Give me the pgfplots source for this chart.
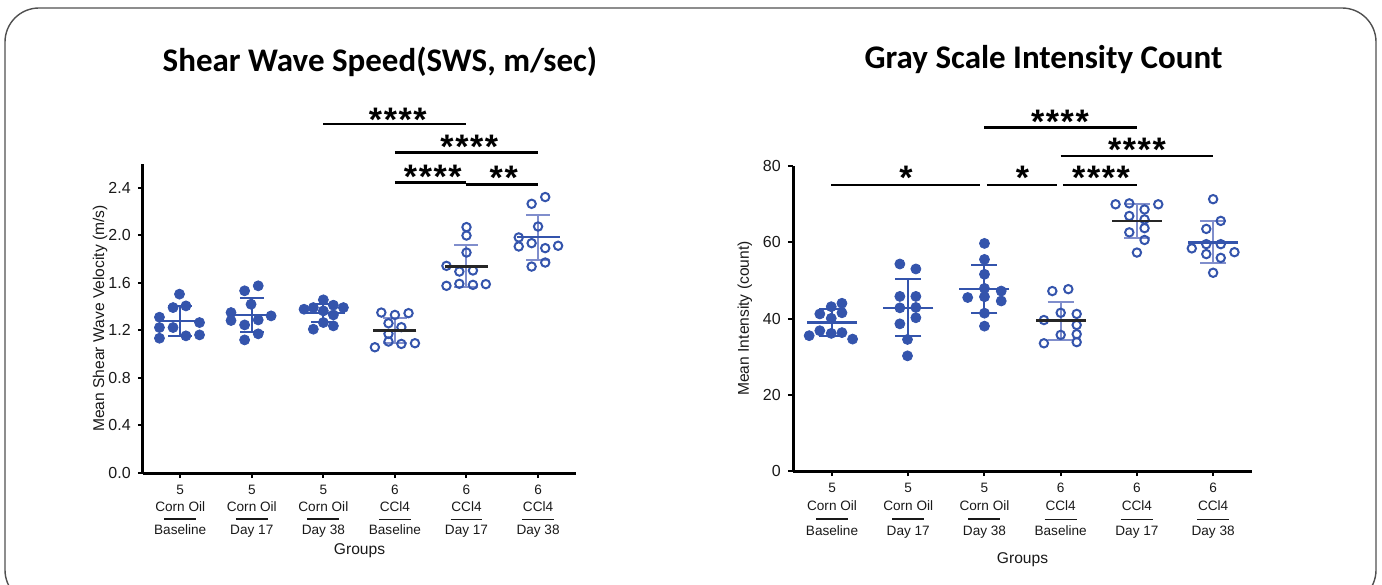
\documentclass[border=0pt]{standalone}
\usepackage{fontspec}
\setmainfont{Liberation Sans}
\newfontfamily\titlefont{Carlito}
\usepackage{pgfplots}
\pgfplotsset{compat=1.18}

\definecolor{dotblue}{RGB}{52,84,172}
\definecolor{sdblue}{RGB}{128,142,204}
\definecolor{framegray}{RGB}{80,80,80}

% group label: n / treatment / rule / time point
\newcommand{\glab}[3]{#1\\#2\\[-4.5pt]\rule{16pt}{0.6pt}\\[-1pt]#3}
\newcommand{\stars}{*\kern0.8pt*\kern0.8pt*\kern0.8pt*}

\tikzset{startxt/.style={anchor=base, inner sep=0pt, font=\fontsize{17}{17}\selectfont\bfseries}}

\pgfplotsset{
  panel/.style={
    scale only axis, anchor=south west,
    axis x line=bottom, axis y line=left,
    axis line style={line width=1.5pt,-},
    tick align=outside, major tick length=2.6pt,
    tick style={line width=1pt, black},
    xtick={1,...,6}, clip=false,
    xticklabels={{\glab{5}{Corn Oil}{Baseline}},{\glab{5}{Corn Oil}{Day 17}},{\glab{5}{Corn Oil}{Day 38}},
                 {\glab{6}{CCl4}{Baseline}},{\glab{6}{CCl4}{Day 17}},{\glab{6}{CCl4}{Day 38}}},
    xticklabel style={font=\fontsize{6.8}{8.5}\selectfont, align=center, text=black!90},
    yticklabel style={font=\fontsize{8}{9}\selectfont, text=black!90,
      /pgf/number format/assume math mode=true},
    label style={font=\fontsize{7.8}{9}\selectfont, text=black!90},
    xlabel={Groups},
  },
  filled/.style={only marks, mark=*, mark size=2.5pt, dotblue},
  hollow/.style={only marks, mark=o, mark size=2.1pt, dotblue, mark options={line width=1pt}},
  meanbar/.style n args={4}{only marks, #1, mark=-, mark size=#2,
    mark options={line width=1.3pt},
    error bars/.cd, y dir=both, y explicit,
    error bar style={#3, line width=1pt},
    error mark options={#3, rotate=90, mark size=#4, line width=1pt}},
  sig/.style={black, line width=1.4pt, forget plot},
}

\begin{document}
\begin{tikzpicture}
\useasboundingbox (0,0) rectangle (691pt,292pt);
\draw[framegray, line width=0.7pt, rounded corners=17pt] (2.5pt,288pt) rectangle (688pt,-10pt);
\node[font=\fontsize{16.5}{19}\selectfont\titlefont\bfseries] at (190pt,261pt) {Shear Wave Speed(SWS, m/sec)};
\node[font=\fontsize{16.5}{19}\selectfont\titlefont\bfseries] at (521.75pt,262pt) {Gray Scale Intensity Count};

% ---------------- Shear wave speed ----------------
\begin{axis}[panel, at={(71.5pt,55.5pt)}, width=216.5pt, height=154.5pt,
  xmin=0.48, xmax=6.53, ymin=0, ymax=2.6,
  ytick={0,0.4,0.8,1.2,1.6,2.0,2.4},
  yticklabel style={/pgf/number format/.cd, fixed, fixed zerofill, precision=1},
  ylabel={Mean Shear Wave Velocity (m/s)},
  ylabel style={at={(axis description cs:-0.099,0.5)}, anchor=center},
  xlabel style={at={(axis description cs:0.5,-0.252)}, anchor=center}]
\addplot[filled] table {
x y
0.99 1.505
0.90 1.392
1.08 1.406
0.71 1.311
0.71 1.224
0.90 1.224
1.27 1.266
0.71 1.134
1.08 1.154
1.27 1.162
};
\addplot[filled] table {
x y
1.90 1.533
2.09 1.575
1.99 1.420
1.71 1.350
1.71 1.283
2.27 1.322
2.09 1.288
1.90 1.246
2.09 1.171
1.90 1.120
};
\addplot[filled] table {
x y
3.00 1.457
2.73 1.378
2.86 1.392
3.14 1.412
3.28 1.392
3.00 1.364
3.14 1.330
3.00 1.266
2.86 1.210
3.14 1.238
};
\addplot[hollow] table {
x y
3.81 1.350
4.00 1.330
4.19 1.345
3.91 1.260
4.09 1.227
3.91 1.171
3.91 1.106
4.09 1.086
4.28 1.092
3.72 1.058
};
\addplot[hollow] table {
x y
5.00 2.069
5.00 1.998
5.00 1.855
4.72 1.743
4.90 1.695
5.09 1.704
4.72 1.575
4.90 1.592
5.09 1.583
5.27 1.589
};
\addplot[hollow] table {
x y
6.10 2.322
5.91 2.265
6.00 2.074
5.73 1.982
5.73 1.906
5.91 1.934
6.10 1.892
6.28 1.912
6.10 1.771
5.91 1.737
};
% mean +- SD
\addplot[meanbar={dotblue}{10.75pt}{dotblue}{6pt}] coordinates {(1,1.278) +- (0,0.123)};
\addplot[meanbar={dotblue}{10.75pt}{dotblue}{6pt}] coordinates {(2,1.330) +- (0,0.146)};
\addplot[meanbar={dotblue}{10.75pt}{dotblue}{6pt}] coordinates {(3,1.345) +- (0,0.075)};
\addplot[meanbar={black!85}{10.75pt}{sdblue}{6pt}] coordinates {(4,1.200) +- (0,0.105)};
\addplot[meanbar={black!85}{10.75pt}{sdblue}{6pt}] coordinates {(5,1.740) +- (0,0.175)};
\addplot[meanbar={dotblue}{10.75pt}{sdblue}{6pt}] coordinates {(6,1.985) +- (0,0.190)};
% significance
\addplot[sig] coordinates {(3,2.936) (5,2.936)};
\addplot[sig] coordinates {(4,2.700) (6,2.700)};
\addplot[sig] coordinates {(4,2.445) (5,2.445)};
\addplot[sig] coordinates {(5,2.425) (6,2.425)};
\node[startxt] at (axis cs:4.04,2.875) {\stars};
\node[startxt] at (axis cs:5.04,2.650) {\stars};
\node[startxt] at (axis cs:4.53,2.392) {\stars};
\node[startxt] at (axis cs:5.52,2.383) {*\kern0.8pt*};
\end{axis}

% ---------------- Gray scale intensity ----------------
\begin{axis}[panel, at={(396.5pt,56.5pt)}, width=229.5pt, height=152.5pt,
  xmin=0.488, xmax=6.51, ymin=0, ymax=80,
  ytick={0,20,40,60,80},
  xticklabel style={font=\fontsize{6.8}{9}\selectfont},
  ylabel={Mean Intensity (count)},
  ylabel style={at={(axis description cs:-0.105,0.5)}, anchor=center},
  xlabel style={at={(axis description cs:0.5,-0.292)}, anchor=center}]
\addplot[filled] table {
x y
1.13 44.0
0.99 43.1
0.84 41.2
1.13 41.5
0.99 40.05
0.84 36.8
0.99 36.1
1.13 36.3
0.70 35.5
1.27 34.6
};
\addplot[filled] table {
x y
1.89 54.3
2.10 53.0
1.89 45.8
2.10 45.8
1.89 42.8
2.10 42.9
2.10 40.2
1.89 38.6
1.99 34.5
1.99 30.2
};
\addplot[filled] table {
x y
3.00 59.7
3.00 55.5
3.00 51.6
3.00 47.9
3.22 47.2
2.78 45.5
3.00 45.7
3.22 44.6
3.00 41.4
3.00 38.0
};
\addplot[hollow] table {
x y
3.89 47.2
4.10 47.7
4.00 41.5
4.21 41.2
3.78 39.6
4.21 38.3
4.00 35.7
4.21 35.9
4.21 33.8
3.78 33.5
};
\addplot[hollow] table {
x y
4.72 69.96
4.90 70.2
5.28 69.96
5.10 68.6
4.90 66.9
5.10 66.0
5.10 63.7
4.90 62.6
5.10 60.6
5.00 57.3
};
\addplot[hollow] table {
x y
6.00 71.3
6.10 65.6
5.91 63.5
5.72 58.4
5.91 59.5
6.10 59.5
6.28 57.4
5.91 56.9
6.10 55.9
6.00 52.0
};
\addplot[meanbar={dotblue}{12.5pt}{dotblue}{6.5pt}] coordinates {(1,38.9) +- (0,3.5)};
\addplot[meanbar={dotblue}{12.5pt}{dotblue}{6.5pt}] coordinates {(2,42.8) +- (0,7.5)};
\addplot[meanbar={dotblue}{12.5pt}{dotblue}{6.5pt}] coordinates {(3,47.7) +- (0,6.3)};
\addplot[meanbar={black!85}{12.5pt}{sdblue}{6.5pt}] coordinates {(4,39.4) +- (0,5.0)};
\addplot[meanbar={black!85}{12.5pt}{sdblue}{6.5pt}] coordinates {(5,65.6) +- (0,4.4)};
\addplot[meanbar={dotblue}{12.5pt}{sdblue}{6.5pt}] coordinates {(6,60.0) +- (0,5.5)};
\addplot[sig] coordinates {(3,90.05) (5,90.05)};
\addplot[sig] coordinates {(4,82.62) (6,82.62)};
\addplot[sig] coordinates {(0.99,75.02) (2.94,75.02)};
\addplot[sig] coordinates {(3.03,75.02) (3.95,75.02)};
\addplot[sig] coordinates {(4.03,75.02) (5.00,75.02)};
\node[startxt] at (axis cs:3.99,88.58) {\stars};
\node[startxt] at (axis cs:5.00,81.13) {\stars};
\node[startxt] at (axis cs:1.97,73.71) {*};
\node[startxt] at (axis cs:3.50,73.71) {*};
\node[startxt] at (axis cs:4.53,73.71) {\stars};
\end{axis}
\end{tikzpicture}
\end{document}
